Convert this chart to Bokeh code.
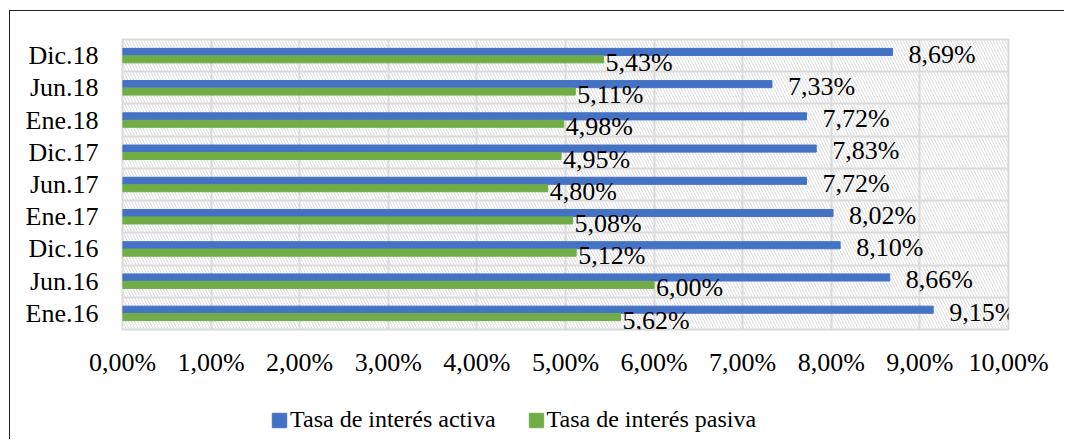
from bokeh.plotting import figure
from bokeh.layouts import column
from bokeh.models import (ColumnDataSource, FactorRange, FixedTicker, BoxAnnotation,
                          Legend, LegendItem)
from bokeh.transform import dodge
from bokeh.embed import file_html
from bokeh.resources import INLINE

# ---- data (bottom to top) ----
categories = ["Ene.16", "Jun.16", "Dic.16", "Ene.17", "Jun.17", "Dic.17", "Ene.18", "Jun.18", "Dic.18"]
activa = [9.15, 8.66, 8.10, 8.02, 7.72, 7.83, 7.72, 7.33, 8.69]
pasiva = [5.62, 6.00, 5.12, 5.08, 4.80, 4.95, 4.98, 5.11, 5.43]
x_ticks = [0, 1, 2, 3, 4, 5, 6, 7, 8, 9, 10]
x_tick_labels = ["0,00%", "1,00%", "2,00%", "3,00%", "4,00%", "5,00%", "6,00%", "7,00%", "8,00%", "9,00%", "10,00%"]
series_names = ["Tasa de interés activa", "Tasa de interés pasiva"]

def fmt(v):
    return f"{v:.2f}%".replace(".", ",")

src = ColumnDataSource(dict(
    cat=categories,
    activa=activa,
    pasiva=pasiva,
    lab_a=[fmt(v) for v in activa],
    lab_p=[fmt(v) for v in pasiva],
))

FONT = "Liberation Serif"
FS = "26px"
BLUE = "#4472C4"
GREEN = "#70AD47"
GRID = "#d9d9d9"
W = 1054

p = figure(width=W, height=368, y_range=FactorRange(*categories), x_range=(0, 10),
           output_backend="svg", toolbar_location=None,
           min_border_left=112, min_border_right=W - 112 - 886, min_border_top=28,
           min_border_bottom=48)
p.outline_line_color = GRID
p.outline_line_width = 2

# hatched plot-area background
p.add_layout(BoxAnnotation(fill_color=None, line_color=None, hatch_pattern="\\",
                           hatch_color="#dedede", hatch_scale=6, hatch_weight=1,
                           level="underlay"))

p.hbar(y=dodge("cat", 0.115, range=p.y_range), right="activa", left=0, height=0.22,
       color=BLUE, source=src)
p.hbar(y=dodge("cat", -0.115, range=p.y_range), right="pasiva", left=0, height=0.22,
       color=GREEN, source=src)

p.text(x="activa", y=dodge("cat", 0.04, range=p.y_range), text="lab_a", x_offset=16,
       text_baseline="middle", text_align="left", text_font=FONT, text_font_size=FS,
       text_color="#000000", source=src)
p.text(x="pasiva", y=dodge("cat", -0.21, range=p.y_range), text="lab_p", x_offset=2,
       text_baseline="middle", text_align="left", text_font=FONT, text_font_size=FS,
       text_color="#000000", source=src)

# axes
p.xaxis.ticker = FixedTicker(ticks=x_ticks)
p.xaxis.major_label_overrides = {t: l for t, l in zip(x_ticks, x_tick_labels)}
for ax in (p.xaxis[0], p.yaxis[0]):
    ax.axis_line_color = None
    ax.major_tick_line_color = None
    ax.minor_tick_line_color = None
    ax.major_label_text_font = FONT
    ax.major_label_text_font_size = FS
    ax.major_label_text_color = "#000000"
p.xaxis.major_label_standoff = 12
p.yaxis.major_label_standoff = 18

p.xgrid.ticker = FixedTicker(ticks=x_ticks)
p.xgrid.grid_line_color = GRID
p.xgrid.grid_line_width = 2
p.ygrid.ticker = FixedTicker(ticks=list(range(len(categories) + 1)))
p.ygrid.grid_line_color = GRID
p.ygrid.grid_line_width = 2

# legend strip (below the chart); swatch renderers sit outside the visible range
pl = figure(width=W, height=60, x_axis_type=None, y_axis_type=None,
            output_backend="svg", toolbar_location=None,
            min_border=0, x_range=(0, 1), y_range=(0, 1))
pl.outline_line_color = None
pl.grid.visible = False
la = pl.quad(left=[-6], right=[-5], bottom=[-6], top=[-5], color=BLUE)
lp = pl.quad(left=[-6], right=[-5], bottom=[-6], top=[-5], color=GREEN)
legend = Legend(items=[LegendItem(label=series_names[0], renderers=[la]),
                       LegendItem(label=series_names[1], renderers=[lp])],
                orientation="horizontal", location=(148, 6),
                label_text_font=FONT, label_text_font_size="24px", label_text_color="#000000",
                glyph_width=18, glyph_height=18, label_standoff=2, spacing=31,
                padding=0, margin=0, border_line_color=None, background_fill_alpha=0,
                label_height=20)
pl.add_layout(legend, "center")

layout = column(p, pl, spacing=0,
                styles={"border-top": "1.5px solid #222", "border-left": "1.5px solid #222",
                        "margin-left": "9px", "margin-top": "10px"})

open("out.html", "w").write(file_html(layout, INLINE))
